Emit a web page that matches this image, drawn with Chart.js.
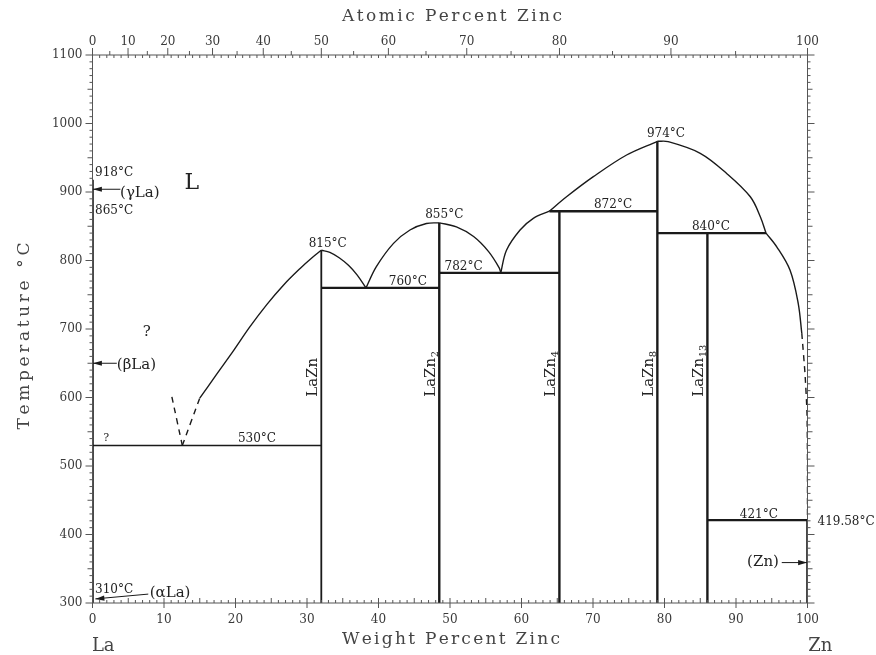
<!DOCTYPE html>
<html>
<head>
<meta charset="utf-8">
<script src="https://cdn.jsdelivr.net/npm/chart.js@4.4.0/dist/chart.umd.min.js"></script>
<style>
  html, body { margin: 0; padding: 0; background: #fff; }
  canvas { display: block; }
</style>
</head>
<body>
<canvas id="phaseChart" width="876" height="655"></canvas>
<script>
// =========================
//  La–Zn phase diagram
// =========================

// ----- Axis ticks -----
const WT_TICKS = [0, 10, 20, 30, 40, 50, 60, 70, 80, 90, 100];
const AT_TICKS = [0, 10, 20, 30, 40, 50, 60, 70, 80, 90, 100];
const T_TICKS = [300, 400, 500, 600, 700, 800, 900, 1000, 1100];

// atomic % -> weight % (top axis)
const M_LA = 138.905, M_ZN = 65.38;
const atToWt = (a) => (100 * a * M_ZN) / (a * M_ZN + (100 - a) * M_LA);

// ----- Phase boundaries  [wt% Zn, °C] -----
const liqLaDash = [[11.1, 601], [12.56, 530], [15.0, 599]];
const liqLaZnLeft = [[15.0, 599], [17.3, 633], [19.7, 668], [22.0, 703], [24.4, 736], [26.7, 764], [29.0, 788], [30.7, 804], [32.0, 815]];
const liqLaZnRight = [[32.0, 815], [33.2, 812], [34.5, 804], [35.8, 793], [37.0, 779], [38.25, 760]];
const liqLaZn2Left = [[38.25, 760], [39.7, 791], [42.1, 825], [44.4, 844.5], [46.7, 854], [48.5, 855]];
const liqLaZn2Right = [[48.5, 855], [50.9, 849], [53.3, 835], [55.4, 813], [56.9, 789], [57.1, 782]];
const liqLaZn4 = [[57.1, 782], [57.9, 815], [59.8, 844.5], [61.65, 861.6], [63.9, 872]];
const liqLaZn8Left = [[63.9, 872], [66.3, 893], [70.0, 922], [74.7, 954], [79.0, 974]];
const liqLaZn8Right = [[79.0, 974], [80.5, 973.5], [85.0, 956.5], [88.7, 927], [92.0, 893], [93.4, 864], [94.2, 840]];
const liqZnSolid = [[94.2, 840], [95.7, 820], [97.55, 786], [98.7, 737.5], [99.2, 694]];
const liqZnDash = [[99.2, 694], [99.65, 635], [99.93, 577], [100, 500], [100, 421]];

// invariant lines  [wt% from, wt% to, °C]
const isotherms = [
  [0, 32.0, 530],
  [32.0, 48.5, 760],
  [48.5, 65.3, 782],
  [63.9, 79.0, 872],
  [79.0, 94.2, 840],
  [86.0, 100, 421]
];

// compounds  [name, subscript, wt% Zn, top °C]
const compounds = [
  ["LaZn", "", 32.0, 815],
  ["LaZn", "2", 48.5, 855],
  ["LaZn", "4", 65.3, 872],
  ["LaZn", "8", 79.0, 974],
  ["LaZn", "13", 86.0, 840]
];

// pure elements  [wt% Zn, top °C]
const pureLa = [0, 918];
const pureZn = [100, 419.58];

// ----- Text labels  [text, wt%, °C, align] -----
const tempLabels = [
  ["530°C", 23.0, 540, "center"],
  ["815°C", 32.9, 825, "center"],
  ["760°C", 44.1, 769, "center"],
  ["855°C", 49.2, 866, "center"],
  ["782°C", 51.9, 791, "center"],
  ["872°C", 72.8, 881, "center"],
  ["974°C", 80.2, 984.7, "center"],
  ["840°C", 86.5, 849.4, "center"],
  ["421°C", 93.2, 428.5, "center"],
  ["419.58°C", 101.4, 418.7, "left"],
  ["918°C", 0.35, 927.7, "left"],
  ["865°C", 0.35, 872, "left"],
  ["310°C", 0.35, 319, "left"]
];
const phaseLabels = [
  ["(γLa)", 3.85, 899, "left"],
  ["(βLa)", 3.4, 647.4, "left"],
  ["(αLa)", 8.0, 314.6, "left"],
  ["(Zn)", 96.0, 359.9, "right"],
  ["?", 7.6, 696, "center"],
  ["?", 1.9, 540.4, "center"]
];

// arrows  [from wt%, from °C, to wt%, to °C]
const arrows = [
  [3.9, 904, 0.05, 904],
  [3.4, 650, 0.05, 650],
  [7.8, 313, 0.4, 306],
  [96.4, 359, 99.95, 359]
];

// ----- Dataset helpers -----
const INK = "#1a1a1a";
const pts = (arr) => arr.map(([x, y]) => ({ x, y }));
function lineSet(data, width, opts = {}) {
  return Object.assign({
    data,
    showLine: true,
    borderColor: INK,
    borderWidth: width,
    pointRadius: 0,
    fill: false,
    tension: 0
  }, opts);
}
const curve = (arr) => lineSet(pts(arr), 1.4, { tension: 0.35 });
const dashed = (arr) => lineSet(pts(arr), 1.4, { borderDash: [6, 5], tension: 0.2 });

const datasets = [
  dashed(liqLaDash.slice(0, 2)),
  dashed(liqLaDash.slice(1)),
  curve(liqLaZnLeft),
  curve(liqLaZnRight),
  curve(liqLaZn2Left),
  curve(liqLaZn2Right),
  curve(liqLaZn4),
  curve(liqLaZn8Left),
  curve(liqLaZn8Right),
  curve(liqZnSolid),
  dashed(liqZnDash)
];
isotherms.forEach(([a, b, t]) => {
  datasets.push(lineSet([{ x: a, y: t }, { x: b, y: t }], t === 530 ? 1.6 : 2.4));
});
compounds.forEach(([, , w, t]) => {
  datasets.push(lineSet([{ x: w, y: 300 }, { x: w, y: t }], w < 40 ? 1.8 : 2.4));
});
datasets.push(lineSet([{ x: pureLa[0], y: 300 }, { x: pureLa[0], y: pureLa[1] }], 2.6));
datasets.push(lineSet([{ x: pureZn[0], y: 300 }, { x: pureZn[0], y: pureZn[1] }], 2.6));

// ----- Draw helpers -----
function spacedText(ctx, text, cx, cy, width) {
  const chars = [...text];
  const ws = chars.map((c) => ctx.measureText(c).width);
  const natural = ws.reduce((s, w) => s + w, 0);
  const gap = (width - natural) / (chars.length - 1);
  let x = cx - width / 2;
  ctx.textAlign = "left";
  chars.forEach((c, i) => {
    ctx.fillText(c, x, cy);
    x += ws[i] + gap;
  });
}

const framePlugin = {
  id: "phaseFrame",
  afterDatasetsDraw(chart) {
    const { ctx, chartArea: { left, right, top, bottom }, scales: { x, y } } = chart;
    ctx.save();

    // frame
    ctx.strokeStyle = "#555";
    ctx.lineWidth = 1;
    ctx.strokeRect(left, top, right - left, bottom - top);

    ctx.beginPath();
    // bottom + top weight % ticks
    for (let w = 0; w <= 100; w++) {
      const px = x.getPixelForValue(w);
      const up = w % 5 === 0 ? 5 : 3;
      ctx.moveTo(px, bottom);
      ctx.lineTo(px, bottom - up);
      if (w % 10 === 0) { ctx.moveTo(px, bottom); ctx.lineTo(px, bottom + 5); }
      ctx.moveTo(px, top);
      ctx.lineTo(px, top + 3);
    }
    // top atomic % ticks
    for (let a = 0; a <= 100; a += 5) {
      const px = x.getPixelForValue(atToWt(a));
      ctx.moveTo(px, top);
      ctx.lineTo(px, top - (a % 10 === 0 ? 7 : 4));
    }
    // temperature ticks
    for (let t = 300; t <= 1100; t += 10) {
      const py = y.getPixelForValue(t);
      const len = t % 100 === 0 ? 7 : t % 50 === 0 ? 5 : 3;
      ctx.moveTo(left, py); ctx.lineTo(left - len, py);
      ctx.moveTo(right, py); ctx.lineTo(right + len, py);
    }
    ctx.stroke();

    // tick labels
    ctx.fillStyle = "#3a3a3a";
    ctx.font = "12px 'DejaVu Serif'";
    ctx.textBaseline = "middle";
    ctx.textAlign = "right";
    T_TICKS.forEach((t) => ctx.fillText(String(t), left - 10, y.getPixelForValue(t)));
    ctx.textAlign = "center";
    WT_TICKS.forEach((w) => ctx.fillText(String(w), x.getPixelForValue(w), bottom + 17));
    AT_TICKS.forEach((a) => ctx.fillText(String(a), x.getPixelForValue(atToWt(a)), top - 13));

    // axis titles
    ctx.fillStyle = "#444";
    ctx.font = "17px 'DejaVu Serif'";
    spacedText(ctx, "Atomic Percent Zinc", (left + right) / 2 + 2, 17, 220);
    spacedText(ctx, "Weight Percent Zinc", (left + right) / 2 + 1, 640, 218);
    ctx.save();
    ctx.translate(25, 336);
    ctx.rotate(-Math.PI / 2);
    spacedText(ctx, "Temperature °C", 0, 0, 187);
    ctx.restore();

    ctx.font = "18px 'DejaVu Serif'";
    ctx.textAlign = "center";
    ctx.fillText("La", x.getPixelForValue(1.5), 646);
    ctx.fillText("Zn", x.getPixelForValue(101.8), 646);

    // arrows
    ctx.strokeStyle = INK;
    ctx.fillStyle = INK;
    ctx.lineWidth = 1;
    arrows.forEach(([x0, t0, x1, t1]) => {
      const ax = x.getPixelForValue(x0), ay = y.getPixelForValue(t0);
      const bx = x.getPixelForValue(x1), by = y.getPixelForValue(t1);
      const ang = Math.atan2(by - ay, bx - ax);
      ctx.beginPath();
      ctx.moveTo(ax, ay);
      ctx.lineTo(bx, by);
      ctx.stroke();
      ctx.beginPath();
      ctx.moveTo(bx, by);
      ctx.lineTo(bx - 9 * Math.cos(ang) + 2.6 * Math.sin(ang), by - 9 * Math.sin(ang) - 2.6 * Math.cos(ang));
      ctx.lineTo(bx - 9 * Math.cos(ang) - 2.6 * Math.sin(ang), by - 9 * Math.sin(ang) + 2.6 * Math.cos(ang));
      ctx.closePath();
      ctx.fill();
    });

    // labels
    ctx.fillStyle = "#222";
    ctx.textBaseline = "middle";
    ctx.font = "12px 'DejaVu Serif'";
    tempLabels.forEach(([s, w, t, al]) => {
      ctx.textAlign = al;
      ctx.fillText(s, x.getPixelForValue(w), y.getPixelForValue(t));
    });
    phaseLabels.forEach(([s, w, t, al]) => {
      ctx.font = s === "?" ? (t > 600 ? "15px 'DejaVu Serif'" : "11px 'DejaVu Serif'") : "15px 'DejaVu Serif'";
      ctx.textAlign = al;
      ctx.fillText(s, x.getPixelForValue(w), y.getPixelForValue(t));
    });
    ctx.font = "22px 'DejaVu Serif'";
    ctx.textAlign = "center";
    ctx.fillText("L", x.getPixelForValue(13.9), y.getPixelForValue(912));

    // compound names, vertical
    compounds.forEach(([name, sub, w]) => {
      ctx.save();
      ctx.translate(x.getPixelForValue(w) - 8.5, y.getPixelForValue(601));
      ctx.rotate(-Math.PI / 2);
      ctx.font = "15px 'DejaVu Serif'";
      ctx.textAlign = "left";
      ctx.fillText(name, 0, 0);
      if (sub) {
        const nw = ctx.measureText(name).width;
        ctx.font = "10px 'DejaVu Serif'";
        ctx.fillText(sub, nw + 0.5, 5);
      }
      ctx.restore();
    });

    ctx.restore();
  }
};

// ----- Chart -----
const chart = new Chart(document.getElementById("phaseChart").getContext("2d"), {
  type: "scatter",
  data: { datasets },
  options: {
    responsive: false,
    animation: false,
    events: [],
    layout: { padding: { left: 92.5, right: 68.5, top: 55, bottom: 52 } },
    plugins: { legend: { display: false }, tooltip: { enabled: false } },
    scales: {
      x: { type: "linear", min: 0, max: 100, display: false },
      y: { type: "linear", min: 300, max: 1100, display: false }
    }
  },
  plugins: [framePlugin]
});
</script>
</body>
</html>
